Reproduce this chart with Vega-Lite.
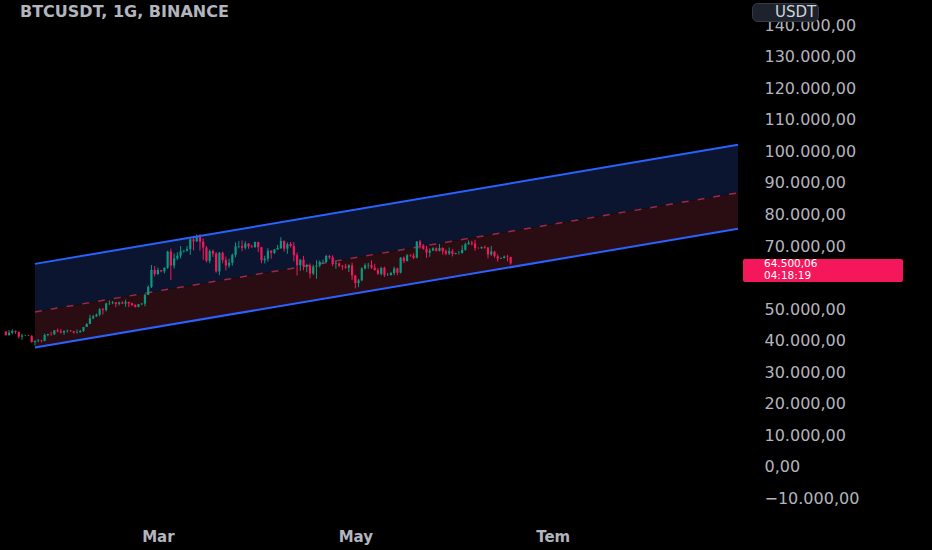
{
  "$schema": "https://vega.github.io/schema/vega-lite/v6.json",
  "width": 743,
  "height": 520,
  "autosize": "none",
  "padding": {"left": 0, "top": 0, "right": 189, "bottom": 30},
  "background": "#000000",
  "title": {"text": "BTCUSDT, 1G, BINANCE", "anchor": "start", "frame": "group", "offset": 0, "dx": 20, "dy": 20, "color": "#b2b5be", "font": "DejaVu Sans", "fontSize": 16, "fontWeight": "bold"},
  "config": {
    "view": {"stroke": null},
    "locale": {
      "number": {"decimal": ",", "thousands": ".", "grouping": [3], "currency": ["₺", ""]},
      "time": {
        "dateTime": "%a %e %b %X %Y", "date": "%d.%m.%Y", "time": "%H:%M:%S", "periods": ["AM", "PM"],
        "days": ["Pazar", "Pazartesi", "Salı", "Çarşamba", "Perşembe", "Cuma", "Cumartesi"],
        "shortDays": ["Paz", "Pzt", "Sal", "Çar", "Per", "Cum", "Cmt"],
        "months": ["Ocak", "Şubat", "Mart", "Nisan", "Mayıs", "Haziran", "Temmuz", "Ağustos", "Eylül", "Ekim", "Kasım", "Aralık"],
        "shortMonths": ["Oca", "Şub", "Mar", "Nis", "May", "Haz", "Tem", "Ağu", "Eyl", "Eki", "Kas", "Ara"]
      }
    },
    "axis": {"title": null, "grid": false, "domain": false, "ticks": false, "labelColor": "#b2b5be", "labelFont": "DejaVu Sans", "labelOverlap": false},
    "axisY": {"labelFontSize": 16, "labelPadding": 21, "labelOverlap": false},
    "axisX": {"labelFontSize": 15, "labelFontWeight": "bold", "labelPadding": 9}
  },
  "datasets": {
    "channel": [
      {"t": "2024-01-23", "upper": 64340, "mid": 49130, "lower": 37880},
      {"t": "2024-08-27T06:00:00Z", "upper": 102060, "mid": 86850, "lower": 75440}
    ],
    "last": [{"price": 64500.06, "countdown": "04:18:19"}],
    "candles": [
      {"d": "2024-01-14", "o": 42840, "h": 43080, "l": 41720, "c": 41730},
      {"d": "2024-01-15", "o": 41730, "h": 43400, "l": 41720, "c": 42510},
      {"d": "2024-01-16", "o": 42510, "h": 43580, "l": 42050, "c": 43140},
      {"d": "2024-01-17", "o": 43140, "h": 43200, "l": 42200, "c": 42770},
      {"d": "2024-01-18", "o": 42770, "h": 42930, "l": 40680, "c": 41270},
      {"d": "2024-01-19", "o": 41270, "h": 42200, "l": 40280, "c": 41620},
      {"d": "2024-01-20", "o": 41620, "h": 41870, "l": 41450, "c": 41660},
      {"d": "2024-01-21", "o": 41660, "h": 41890, "l": 41500, "c": 41580},
      {"d": "2024-01-22", "o": 41580, "h": 41680, "l": 39430, "c": 39550},
      {"d": "2024-01-23", "o": 39550, "h": 40140, "l": 38550, "c": 39900},
      {"d": "2024-01-24", "o": 39900, "h": 40500, "l": 39500, "c": 40080},
      {"d": "2024-01-25", "o": 40080, "h": 40290, "l": 39490, "c": 39940},
      {"d": "2024-01-26", "o": 39940, "h": 42230, "l": 39830, "c": 41820},
      {"d": "2024-01-27", "o": 41820, "h": 42200, "l": 41400, "c": 42120},
      {"d": "2024-01-28", "o": 42120, "h": 42840, "l": 41620, "c": 42030},
      {"d": "2024-01-29", "o": 42030, "h": 43300, "l": 41800, "c": 43300},
      {"d": "2024-01-30", "o": 43300, "h": 43840, "l": 42680, "c": 42940},
      {"d": "2024-01-31", "o": 42940, "h": 43750, "l": 42280, "c": 42580},
      {"d": "2024-02-01", "o": 42580, "h": 43290, "l": 41880, "c": 43080},
      {"d": "2024-02-02", "o": 43080, "h": 43480, "l": 42560, "c": 43200},
      {"d": "2024-02-03", "o": 43200, "h": 43380, "l": 42870, "c": 43010},
      {"d": "2024-02-04", "o": 43010, "h": 43120, "l": 42260, "c": 42580},
      {"d": "2024-02-05", "o": 42580, "h": 43540, "l": 42260, "c": 42700},
      {"d": "2024-02-06", "o": 42700, "h": 43400, "l": 42570, "c": 43100},
      {"d": "2024-02-07", "o": 43100, "h": 44370, "l": 42800, "c": 44340},
      {"d": "2024-02-08", "o": 44340, "h": 45600, "l": 44330, "c": 45290},
      {"d": "2024-02-09", "o": 45290, "h": 48200, "l": 45240, "c": 47130},
      {"d": "2024-02-10", "o": 47130, "h": 48170, "l": 46800, "c": 47750},
      {"d": "2024-02-11", "o": 47750, "h": 48590, "l": 47560, "c": 48290},
      {"d": "2024-02-12", "o": 48290, "h": 50330, "l": 47720, "c": 49960},
      {"d": "2024-02-13", "o": 49960, "h": 50370, "l": 48300, "c": 49700},
      {"d": "2024-02-14", "o": 49700, "h": 52040, "l": 49260, "c": 51800},
      {"d": "2024-02-15", "o": 51800, "h": 52820, "l": 51320, "c": 51900},
      {"d": "2024-02-16", "o": 51900, "h": 52580, "l": 51580, "c": 52130},
      {"d": "2024-02-17", "o": 52130, "h": 52200, "l": 50630, "c": 51660},
      {"d": "2024-02-18", "o": 51660, "h": 52370, "l": 51170, "c": 52120},
      {"d": "2024-02-19", "o": 52120, "h": 52490, "l": 51680, "c": 51780},
      {"d": "2024-02-20", "o": 51780, "h": 52980, "l": 50760, "c": 52260},
      {"d": "2024-02-21", "o": 52260, "h": 52380, "l": 50630, "c": 51850},
      {"d": "2024-02-22", "o": 51850, "h": 52050, "l": 50940, "c": 51300},
      {"d": "2024-02-23", "o": 51300, "h": 51550, "l": 50520, "c": 50730},
      {"d": "2024-02-24", "o": 50730, "h": 51670, "l": 50590, "c": 51570},
      {"d": "2024-02-25", "o": 51570, "h": 51960, "l": 51290, "c": 51730},
      {"d": "2024-02-26", "o": 51730, "h": 54940, "l": 50900, "c": 54480},
      {"d": "2024-02-27", "o": 54480, "h": 57580, "l": 54440, "c": 57040},
      {"d": "2024-02-28", "o": 57040, "h": 64000, "l": 56700, "c": 62430},
      {"d": "2024-02-29", "o": 62430, "h": 63680, "l": 60360, "c": 61130},
      {"d": "2024-03-01", "o": 61130, "h": 63150, "l": 60780, "c": 62390},
      {"d": "2024-03-02", "o": 62390, "h": 62430, "l": 61660, "c": 61990},
      {"d": "2024-03-03", "o": 61990, "h": 63230, "l": 61320, "c": 63110},
      {"d": "2024-03-04", "o": 63110, "h": 68500, "l": 62770, "c": 68240},
      {"d": "2024-03-05", "o": 68240, "h": 69170, "l": 59220, "c": 63800},
      {"d": "2024-03-06", "o": 63800, "h": 67640, "l": 62850, "c": 66100},
      {"d": "2024-03-07", "o": 66100, "h": 68030, "l": 65560, "c": 66920},
      {"d": "2024-03-08", "o": 66920, "h": 69990, "l": 66080, "c": 68300},
      {"d": "2024-03-09", "o": 68300, "h": 68670, "l": 67950, "c": 68500},
      {"d": "2024-03-10", "o": 68500, "h": 69980, "l": 68240, "c": 69020},
      {"d": "2024-03-11", "o": 69020, "h": 72800, "l": 67190, "c": 72120},
      {"d": "2024-03-12", "o": 72120, "h": 72970, "l": 68620, "c": 71480},
      {"d": "2024-03-13", "o": 71480, "h": 73650, "l": 71330, "c": 73080},
      {"d": "2024-03-14", "o": 73080, "h": 73780, "l": 68550, "c": 71390},
      {"d": "2024-03-15", "o": 71390, "h": 72420, "l": 65630, "c": 69500},
      {"d": "2024-03-16", "o": 69500, "h": 70040, "l": 64780, "c": 65300},
      {"d": "2024-03-17", "o": 65300, "h": 68900, "l": 64540, "c": 68390},
      {"d": "2024-03-18", "o": 68390, "h": 68930, "l": 66590, "c": 67600},
      {"d": "2024-03-19", "o": 67600, "h": 68120, "l": 61560, "c": 61940},
      {"d": "2024-03-20", "o": 61940, "h": 68100, "l": 60770, "c": 67840},
      {"d": "2024-03-21", "o": 67840, "h": 68240, "l": 64530, "c": 65500},
      {"d": "2024-03-22", "o": 65500, "h": 66650, "l": 62260, "c": 63800},
      {"d": "2024-03-23", "o": 63800, "h": 65970, "l": 63070, "c": 64700},
      {"d": "2024-03-24", "o": 64700, "h": 67620, "l": 63790, "c": 67210},
      {"d": "2024-03-25", "o": 67210, "h": 71150, "l": 66390, "c": 69880},
      {"d": "2024-03-26", "o": 69880, "h": 71560, "l": 69280, "c": 69990},
      {"d": "2024-03-27", "o": 69990, "h": 71770, "l": 68380, "c": 69450},
      {"d": "2024-03-28", "o": 69450, "h": 71540, "l": 68900, "c": 70780},
      {"d": "2024-03-29", "o": 70780, "h": 70920, "l": 69100, "c": 69850},
      {"d": "2024-03-30", "o": 69850, "h": 70360, "l": 69560, "c": 69580},
      {"d": "2024-03-31", "o": 69580, "h": 71370, "l": 69570, "c": 71280},
      {"d": "2024-04-01", "o": 71280, "h": 71340, "l": 68060, "c": 69650},
      {"d": "2024-04-02", "o": 69650, "h": 69680, "l": 64530, "c": 65470},
      {"d": "2024-04-03", "o": 65470, "h": 66910, "l": 64490, "c": 65960},
      {"d": "2024-04-04", "o": 65960, "h": 69290, "l": 65080, "c": 68500},
      {"d": "2024-04-05", "o": 68500, "h": 68720, "l": 66000, "c": 67830},
      {"d": "2024-04-06", "o": 67830, "h": 69000, "l": 67440, "c": 68900},
      {"d": "2024-04-07", "o": 68900, "h": 70330, "l": 68860, "c": 69360},
      {"d": "2024-04-08", "o": 69360, "h": 72800, "l": 69040, "c": 71620},
      {"d": "2024-04-09", "o": 71620, "h": 71760, "l": 68210, "c": 69150},
      {"d": "2024-04-10", "o": 69150, "h": 71170, "l": 67520, "c": 70620},
      {"d": "2024-04-11", "o": 70620, "h": 71280, "l": 69560, "c": 70010},
      {"d": "2024-04-12", "o": 70010, "h": 71230, "l": 65090, "c": 67120},
      {"d": "2024-04-13", "o": 67120, "h": 67930, "l": 60660, "c": 63920},
      {"d": "2024-04-14", "o": 63920, "h": 65840, "l": 62140, "c": 65660},
      {"d": "2024-04-15", "o": 65660, "h": 66870, "l": 62300, "c": 63420},
      {"d": "2024-04-16", "o": 63420, "h": 64360, "l": 61720, "c": 63800},
      {"d": "2024-04-17", "o": 63800, "h": 64480, "l": 59770, "c": 61280},
      {"d": "2024-04-18", "o": 61280, "h": 64110, "l": 60800, "c": 63470},
      {"d": "2024-04-19", "o": 63470, "h": 65480, "l": 59600, "c": 63820},
      {"d": "2024-04-20", "o": 63820, "h": 65420, "l": 63200, "c": 64940},
      {"d": "2024-04-21", "o": 64940, "h": 65700, "l": 64250, "c": 64940},
      {"d": "2024-04-22", "o": 64940, "h": 67230, "l": 64520, "c": 66840},
      {"d": "2024-04-23", "o": 66840, "h": 67200, "l": 65830, "c": 66410},
      {"d": "2024-04-24", "o": 66410, "h": 67070, "l": 63600, "c": 64280},
      {"d": "2024-04-25", "o": 64280, "h": 65290, "l": 62790, "c": 64500},
      {"d": "2024-04-26", "o": 64500, "h": 64800, "l": 63330, "c": 63770},
      {"d": "2024-04-27", "o": 63770, "h": 63920, "l": 62400, "c": 63460},
      {"d": "2024-04-28", "o": 63460, "h": 64360, "l": 62800, "c": 63120},
      {"d": "2024-04-29", "o": 63120, "h": 64230, "l": 61760, "c": 63870},
      {"d": "2024-04-30", "o": 63870, "h": 64730, "l": 59190, "c": 60670},
      {"d": "2024-05-01", "o": 60670, "h": 60860, "l": 56550, "c": 58250},
      {"d": "2024-05-02", "o": 58250, "h": 59600, "l": 56940, "c": 59120},
      {"d": "2024-05-03", "o": 59120, "h": 63320, "l": 58850, "c": 62890},
      {"d": "2024-05-04", "o": 62890, "h": 64490, "l": 62580, "c": 63890},
      {"d": "2024-05-05", "o": 63890, "h": 64650, "l": 62820, "c": 64030},
      {"d": "2024-05-06", "o": 64030, "h": 65500, "l": 62700, "c": 63160},
      {"d": "2024-05-07", "o": 63160, "h": 64400, "l": 62280, "c": 62330},
      {"d": "2024-05-08", "o": 62330, "h": 62990, "l": 60880, "c": 61190},
      {"d": "2024-05-09", "o": 61190, "h": 63420, "l": 60650, "c": 63070},
      {"d": "2024-05-10", "o": 63070, "h": 63470, "l": 60190, "c": 60790},
      {"d": "2024-05-11", "o": 60790, "h": 61490, "l": 60490, "c": 60790},
      {"d": "2024-05-12", "o": 60790, "h": 61820, "l": 60630, "c": 61450},
      {"d": "2024-05-13", "o": 61450, "h": 63450, "l": 60750, "c": 62880},
      {"d": "2024-05-14", "o": 62880, "h": 63120, "l": 60760, "c": 61550},
      {"d": "2024-05-15", "o": 61550, "h": 66500, "l": 61300, "c": 66270},
      {"d": "2024-05-16", "o": 66270, "h": 66700, "l": 64600, "c": 65230},
      {"d": "2024-05-17", "o": 65230, "h": 67460, "l": 65110, "c": 67050},
      {"d": "2024-05-18", "o": 67050, "h": 67400, "l": 66600, "c": 66940},
      {"d": "2024-05-19", "o": 66940, "h": 67700, "l": 65850, "c": 66270},
      {"d": "2024-05-20", "o": 66270, "h": 71520, "l": 66060, "c": 71440},
      {"d": "2024-05-21", "o": 71440, "h": 71950, "l": 69160, "c": 70140},
      {"d": "2024-05-22", "o": 70140, "h": 70630, "l": 68820, "c": 69120},
      {"d": "2024-05-23", "o": 69120, "h": 70090, "l": 66300, "c": 67930},
      {"d": "2024-05-24", "o": 67930, "h": 69250, "l": 66610, "c": 68520},
      {"d": "2024-05-25", "o": 68520, "h": 69580, "l": 68490, "c": 69290},
      {"d": "2024-05-26", "o": 69290, "h": 69560, "l": 68230, "c": 68500},
      {"d": "2024-05-27", "o": 68500, "h": 70690, "l": 68260, "c": 69390},
      {"d": "2024-05-28", "o": 69390, "h": 69570, "l": 67260, "c": 68360},
      {"d": "2024-05-29", "o": 68360, "h": 68900, "l": 67100, "c": 67630},
      {"d": "2024-05-30", "o": 67630, "h": 69500, "l": 67130, "c": 68350},
      {"d": "2024-05-31", "o": 68350, "h": 69040, "l": 66670, "c": 67490},
      {"d": "2024-06-01", "o": 67490, "h": 67860, "l": 67370, "c": 67750},
      {"d": "2024-06-02", "o": 67750, "h": 68450, "l": 67300, "c": 67760},
      {"d": "2024-06-03", "o": 67760, "h": 70280, "l": 67610, "c": 68800},
      {"d": "2024-06-04", "o": 68800, "h": 71060, "l": 68500, "c": 70570},
      {"d": "2024-06-05", "o": 70570, "h": 71760, "l": 70400, "c": 71080},
      {"d": "2024-06-06", "o": 71080, "h": 71650, "l": 70130, "c": 70760},
      {"d": "2024-06-07", "o": 70760, "h": 71960, "l": 68500, "c": 69340},
      {"d": "2024-06-08", "o": 69340, "h": 69580, "l": 69160, "c": 69300},
      {"d": "2024-06-09", "o": 69300, "h": 69850, "l": 69130, "c": 69650},
      {"d": "2024-06-10", "o": 69650, "h": 70160, "l": 69150, "c": 69510},
      {"d": "2024-06-11", "o": 69510, "h": 69560, "l": 66050, "c": 67320},
      {"d": "2024-06-12", "o": 67320, "h": 69990, "l": 66900, "c": 68240},
      {"d": "2024-06-13", "o": 68240, "h": 68440, "l": 66300, "c": 66750},
      {"d": "2024-06-14", "o": 66750, "h": 67300, "l": 65080, "c": 66010},
      {"d": "2024-06-15", "o": 66010, "h": 66400, "l": 65870, "c": 66190},
      {"d": "2024-06-16", "o": 66190, "h": 66990, "l": 66060, "c": 66640},
      {"d": "2024-06-17", "o": 66640, "h": 67260, "l": 65100, "c": 66490},
      {"d": "2024-06-18", "o": 66490, "h": 66560, "l": 64060, "c": 64500.06}
    ]
  },
  "layer": [
    {
      "data": {"name": "channel"},
      "mark": {"type": "area", "color": "#0b1530", "opacity": 1},
      "encoding": {
        "x": {"field": "t", "type": "temporal", "scale": {"type": "utc", "domain": [{"year": 2024, "month": 1, "date": 13, "hours": 18, "utc": true}, {"year": 2024, "month": 8, "date": 27, "hours": 6, "utc": true}]}, "axis": {"format": "%b", "values": [{"year": 2024, "month": 3, "date": 1, "utc": true}, {"year": 2024, "month": 5, "date": 1, "utc": true}, {"year": 2024, "month": 7, "date": 1, "utc": true}]}},
        "y": {"field": "upper", "type": "quantitative", "scale": {"domain": [-16790, 147930], "nice": false, "zero": false}, "axis": {"orient": "right", "format": ",.2f", "labelOverlap": false, "values": [-10000, 0, 10000, 20000, 30000, 40000, 50000, 70000, 80000, 90000, 100000, 110000, 120000, 130000, 140000]}},
        "y2": {"field": "mid"}
      }
    },
    {
      "data": {"name": "channel"},
      "mark": {"type": "area", "color": "#2a0d12", "opacity": 1},
      "encoding": {
        "x": {"field": "t", "type": "temporal", "scale": {"type": "utc"}},
        "y": {"field": "mid", "type": "quantitative", "axis": {"orient": "right", "format": ",.2f", "labelOverlap": false, "values": [-10000, 0, 10000, 20000, 30000, 40000, 50000, 70000, 80000, 90000, 100000, 110000, 120000, 130000, 140000]}},
        "y2": {"field": "lower"}
      }
    },
    {
      "data": {"name": "channel"},
      "mark": {"type": "line", "color": "#9a2a45", "strokeWidth": 1.5, "strokeDash": [7, 9]},
      "encoding": {
        "x": {"field": "t", "type": "temporal", "scale": {"type": "utc"}},
        "y": {"field": "mid", "type": "quantitative", "axis": {"orient": "right", "format": ",.2f", "labelOverlap": false, "values": [-10000, 0, 10000, 20000, 30000, 40000, 50000, 70000, 80000, 90000, 100000, 110000, 120000, 130000, 140000]}}
      }
    },
    {
      "data": {"name": "candles"},
      "mark": {"type": "rule", "strokeWidth": 1},
      "encoding": {
        "x": {"field": "d", "type": "temporal", "scale": {"type": "utc"}},
        "y": {"field": "l", "type": "quantitative", "axis": {"orient": "right", "format": ",.2f", "labelOverlap": false, "values": [-10000, 0, 10000, 20000, 30000, 40000, 50000, 70000, 80000, 90000, 100000, 110000, 120000, 130000, 140000]}},
        "y2": {"field": "h"},
        "color": {"condition": {"test": "datum.c >= datum.o", "value": "#089981"}, "value": "#f5175c"}
      }
    },
    {
      "data": {"name": "candles"},
      "mark": {"type": "bar", "width": 2.2},
      "encoding": {
        "x": {"field": "d", "type": "temporal", "scale": {"type": "utc"}},
        "y": {"field": "o", "type": "quantitative", "axis": {"orient": "right", "format": ",.2f", "labelOverlap": false, "values": [-10000, 0, 10000, 20000, 30000, 40000, 50000, 70000, 80000, 90000, 100000, 110000, 120000, 130000, 140000]}},
        "y2": {"field": "c"},
        "color": {"condition": {"test": "datum.c >= datum.o", "value": "#089981"}, "value": "#f5175c"}
      }
    },
    {
      "data": {"name": "channel"},
      "mark": {"type": "line", "strokeWidth": 2},
      "encoding": {
        "x": {"field": "t", "type": "temporal", "scale": {"type": "utc"}},
        "y": {"field": "upper", "type": "quantitative", "axis": {"orient": "right", "format": ",.2f", "labelOverlap": false, "values": [-10000, 0, 10000, 20000, 30000, 40000, 50000, 70000, 80000, 90000, 100000, 110000, 120000, 130000, 140000]}},
        "color": {"datum": "USDT", "scale": {"range": ["#2962ff"]}, "legend": {"orient": "none", "legendX": 752, "legendY": 3, "title": null, "fillColor": "#1e222d", "strokeColor": "#363a45", "cornerRadius": 5, "padding": 1, "labelColor": "#d1d4dc", "labelFont": "DejaVu Sans", "labelFontSize": 15, "labelOffset": 6, "symbolType": "circle", "symbolSize": 256, "symbolOpacity": 0, "symbolStrokeWidth": 0}}
      }
    },
    {
      "data": {"name": "channel"},
      "mark": {"type": "line", "strokeWidth": 2, "color": "#2962ff"},
      "encoding": {
        "x": {"field": "t", "type": "temporal", "scale": {"type": "utc"}},
        "y": {"field": "lower", "type": "quantitative", "axis": {"orient": "right", "format": ",.2f", "labelOverlap": false, "values": [-10000, 0, 10000, 20000, 30000, 40000, 50000, 70000, 80000, 90000, 100000, 110000, 120000, 130000, 140000]}}
      }
    },
    {
      "data": {"name": "last"},
      "mark": {"type": "rect", "color": "#f5175c", "yOffset": -4.5, "y2Offset": 18.5, "x2Offset": 160, "cornerRadius": 2},
      "encoding": {
        "x": {"value": "width"},
        "x2": {"value": "width"},
        "y": {"field": "price", "type": "quantitative", "axis": {"orient": "right", "format": ",.2f", "labelOverlap": false, "values": [-10000, 0, 10000, 20000, 30000, 40000, 50000, 70000, 80000, 90000, 100000, 110000, 120000, 130000, 140000]}},
        "y2": {"field": "price"}
      }
    },
    {
      "data": {"name": "last"},
      "mark": {"type": "text", "align": "left", "baseline": "middle", "xOffset": 21, "yOffset": 0.5, "color": "#ffffff", "font": "DejaVu Sans", "fontSize": 10.5},
      "encoding": {
        "x": {"value": "width"},
        "y": {"field": "price", "type": "quantitative", "axis": {"orient": "right", "format": ",.2f", "labelOverlap": false, "values": [-10000, 0, 10000, 20000, 30000, 40000, 50000, 70000, 80000, 90000, 100000, 110000, 120000, 130000, 140000]}},
        "text": {"field": "price", "type": "quantitative", "format": ",.2f"}
      }
    },
    {
      "data": {"name": "last"},
      "mark": {"type": "text", "align": "left", "baseline": "middle", "xOffset": 21, "yOffset": 12.5, "color": "#ffffff", "font": "DejaVu Sans", "fontSize": 10.5},
      "encoding": {
        "x": {"value": "width"},
        "y": {"field": "price", "type": "quantitative", "axis": {"orient": "right", "format": ",.2f", "labelOverlap": false, "values": [-10000, 0, 10000, 20000, 30000, 40000, 50000, 70000, 80000, 90000, 100000, 110000, 120000, 130000, 140000]}},
        "text": {"field": "countdown", "type": "nominal"}
      }
    }
  ]
}
